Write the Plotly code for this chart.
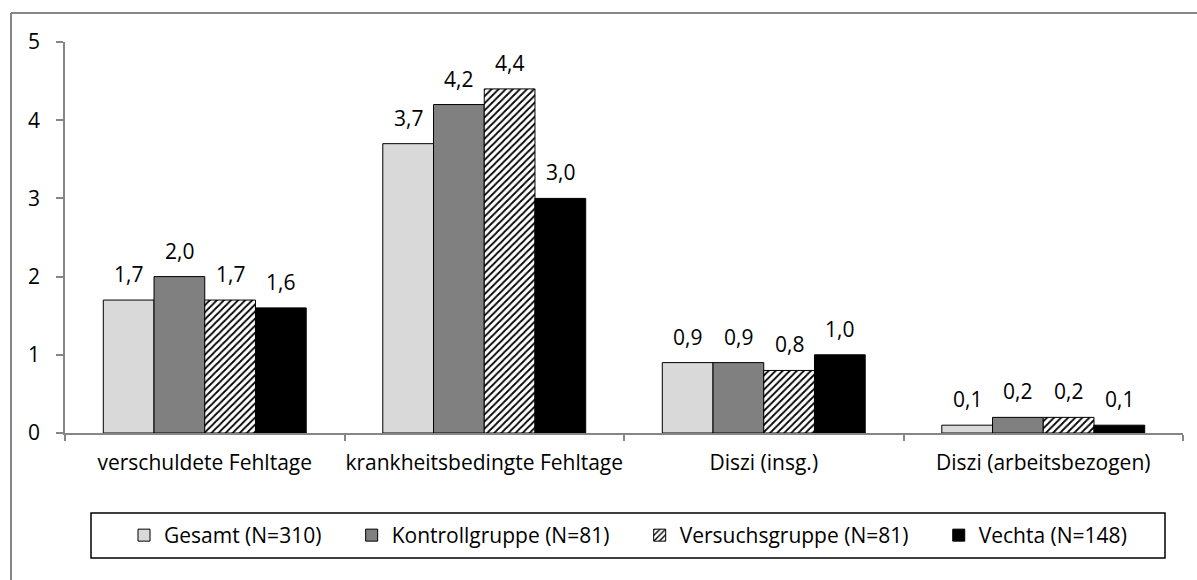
import plotly.graph_objects as go

categories = ["verschuldete Fehltage", "krankheitsbedingte Fehltage", "Diszi (insg.)", "Diszi (arbeitsbezogen)"]
series_names = ["Gesamt (N=310)", "Kontrollgruppe (N=81)", "Versuchsgruppe (N=81)", "Vechta (N=148)"]
gesamt = [1.7, 3.7, 0.9, 0.1]
kontroll = [2.0, 4.2, 0.9, 0.2]
versuch = [1.7, 4.4, 0.8, 0.2]
vechta = [1.6, 3.0, 1.0, 0.1]
y_ticks = [0, 1, 2, 3, 4, 5]

series_values = [gesamt, kontroll, versuch, vechta]
colors = ["#d9d9d9", "#808080", "#ffffff", "#000000"]
FONT = "Open Sans"
FS = 21
AXIS_GRAY = "#868686"
BARGAP = 0.274

fig = go.Figure()
for i, (name, vals) in enumerate(zip(series_names, series_values)):
    marker = dict(color=colors[i], line=dict(color="#000000", width=1))
    if i == 2:
        marker["pattern"] = dict(shape="/", fgcolor="#000000", bgcolor="#ffffff",
                                 size=5, solidity=0.35, fillmode="replace")
    fig.add_trace(go.Bar(name=name + "\u00a0" * 4 + "\u2009", x=categories, y=vals, marker=marker))

# data labels
w = (1 - BARGAP) / len(series_values)
annotations = []
for i, vals in enumerate(series_values):
    for j, v in enumerate(vals):
        annotations.append(dict(
            x=j + (i - 1.5) * w, y=v, xref="x", yref="y",
            text=f"{v:.1f}".replace(".", ","), showarrow=False,
            yanchor="bottom", yshift=10,
            font=dict(family=FONT, size=FS, color="#000000")))

W, H = 1197, 580
ML, MR, MT, MB = 65, 14, 42, 147
PW, PH = W - ML - MR, H - MT - MB

def px(x):
    return (x - ML) / PW

def py(y):
    return (H - MB - y) / PH

border = dict(color=AXIS_GRAY, width=2)
shapes = [
    dict(type="line", xref="paper", yref="paper",
         x0=px(11), x1=px(1197), y0=py(13), y1=py(13), line=border, layer="above"),
    dict(type="line", xref="paper", yref="paper",
         x0=px(11), x1=px(11), y0=py(13), y1=py(580), line=border, layer="above"),
    dict(type="rect", xref="paper", yref="paper",
         x0=px(91), x1=px(1165), y0=py(558), y1=py(513),
         line=dict(color="#000000", width=1.5), fillcolor="rgba(0,0,0,0)"),
]

fig.update_layout(
    width=W, height=H,
    margin=dict(l=ML, r=MR, t=MT, b=MB, pad=0, autoexpand=False),
    barmode="group", bargap=BARGAP, bargroupgap=0,
    plot_bgcolor="#ffffff", paper_bgcolor="#ffffff",
    font=dict(family=FONT, size=FS, color="#000000"),
    showlegend=True,
    legend=dict(orientation="h", x=px(124), xanchor="left", y=py(535.5), yanchor="middle",
                font=dict(family=FONT, size=FS, color="#000000"),
                borderwidth=0, bgcolor="rgba(0,0,0,0)", traceorder="normal"),
    annotations=annotations,
    shapes=shapes,
    xaxis=dict(type="category", showline=True, linecolor=AXIS_GRAY, linewidth=1.5,
               ticks="outside", tickson="boundaries", ticklen=6, tickcolor=AXIS_GRAY, tickwidth=1.5,
               showgrid=False, ticklabelstandoff=10, tickangle=0, automargin=False,
               tickfont=dict(family=FONT, size=FS, color="#000000")),
    yaxis=dict(range=[0, 5], tickvals=y_ticks, showline=True, linecolor=AXIS_GRAY, linewidth=1.5,
               ticks="outside", ticklen=7, tickcolor=AXIS_GRAY, tickwidth=1.5,
               showgrid=False, zeroline=False, ticklabelstandoff=12, automargin=False,
               tickfont=dict(family=FONT, size=FS, color="#000000")),
    separators=",.",
)

fig.write_html("out.html", config={"displayModeBar": False},
               post_script="document.body.style.margin='0';")
